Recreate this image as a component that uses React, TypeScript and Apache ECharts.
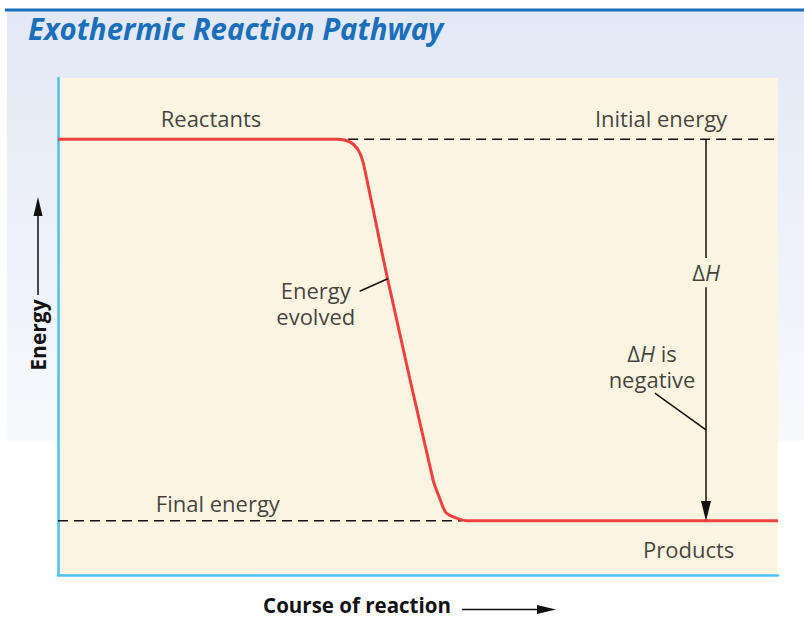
import React, { useEffect, useRef } from "react";
import * as echarts from "echarts";

// Course of reaction (0-100) and energy (0-100)
const reactionX = [0, 38.9, 40.6, 41.7, 42.4, 45.8, 52.1, 53.1, 53.8, 54.9, 56.9, 100];
const energyY = [87.7, 87.7, 87.1, 85.5, 82.9, 59.4, 19.1, 15.1, 12.7, 11.7, 10.9, 10.9];

const initialEnergy = 87.7;
const finalEnergy = 10.9;
const initialDashStart = 40.3;
const finalDashEnd = 56.1;
const deltaX = 90;
const deltaGapTop = 63.8;
const deltaGapBottom = 57.9;
const arrowHeadCenter = 12.9;

const labelNames = ["Reactants", "Initial energy", "Final energy", "Products", "Energy", "evolved", "ΔH", "ΔH is", "negative"];
const labelX = [21.25, 83.75, 22.2, 87.6, 35.8, 35.8, 90, 82.5, 82.5];
const labelY = [92.0, 92.0, 14.5, 5.2, 57.3, 52.1, 61.0, 44.7, 39.5];

const leaderLines = [
  [[41.9, 57.1], [45.8, 59.6]],
  [[82.9, 36.6], [90, 29.2]],
];

const FONT = "'Open Sans', 'Noto Sans', sans-serif";

export default function App() {
  const ref = useRef<HTMLDivElement>(null);
  useEffect(() => {
    if (!ref.current) return;
    const chart = echarts.init(ref.current, undefined, { renderer: "svg" });
    const richFmt = (name: string) => {
      if (name === "ΔH") return "{n|Δ}{i|H}";
      if (name === "ΔH is") return "{n|Δ}{i|H}{n| is}";
      return `{n|${name}}`;
    };
    const labelData = labelNames.map((n, i) => ({ name: n, value: [labelX[i], labelY[i]] }));
    chart.setOption({
      animation: false,
      backgroundColor: "#ffffff",
      graphic: [
        {
          type: "rect",
          z: -10,
          shape: { x: 7, y: 11, width: 797, height: 430 },
          style: {
            fill: new echarts.graphic.LinearGradient(0, 0, 0, 1, [
              { offset: 0, color: "#e2e8f5" },
              { offset: 1, color: "#f8f9fd" },
            ]),
          },
          silent: true,
        },
        {
          type: "rect",
          z: -9,
          shape: { x: 5, y: 8.5, width: 799, height: 3 },
          style: { fill: "#1a6fba" },
        },
        {
          type: "text",
          x: 28,
          y: 13,
          scaleX: 0.95,
          style: {
            text: "Exothermic Reaction Pathway",
            font: `italic bold 31px ${FONT}`,
            fill: "#1a6fba",
          },
        },
        {
          type: "text",
          x: 38,
          y: 335,
          rotation: Math.PI / 2,
          style: {
            text: "Energy",
            font: `bold 21px ${FONT}`,
            fill: "#111",
            align: "center",
            verticalAlign: "middle",
          },
        },
        {
          type: "line",
          shape: { x1: 38, y1: 295, x2: 38, y2: 212 },
          style: { stroke: "#111", lineWidth: 1.5 },
        },
        {
          type: "polygon",
          shape: { points: [[38, 197], [33.5, 216], [42.5, 216]] },
          style: { fill: "#111" },
        },
        {
          type: "text",
          x: 357,
          y: 605,
          style: {
            text: "Course of reaction",
            font: `bold 20.5px ${FONT}`,
            fill: "#111",
            align: "center",
            verticalAlign: "middle",
          },
        },
        {
          type: "line",
          shape: { x1: 462, y1: 609.5, x2: 540, y2: 609.5 },
          style: { stroke: "#111", lineWidth: 1.5 },
        },
        {
          type: "polygon",
          shape: { points: [[556, 609.5], [537, 605], [537, 614]] },
          style: { fill: "#111" },
        },
      ],
      grid: {
        left: 58,
        top: 78,
        width: 720,
        height: 497,
        show: true,
        backgroundColor: "#fdf4e1",
        borderWidth: 0,
      },
      xAxis: {
        type: "value",
        min: 0,
        max: 100,
        axisLine: { show: true, lineStyle: { color: "#4cc3ee", width: 2.5 } },
        axisTick: { show: false },
        axisLabel: { show: false },
        splitLine: { show: false },
      },
      yAxis: {
        type: "value",
        min: 0,
        max: 100,
        axisLine: { show: true, lineStyle: { color: "#4cc3ee", width: 2.5 } },
        axisTick: { show: false },
        axisLabel: { show: false },
        splitLine: { show: false },
      },
      series: [
        {
          type: "line",
          data: [[initialDashStart, initialEnergy], [100, initialEnergy]],
          symbol: "none",
          lineStyle: { color: "#111", width: 1.5, type: [10, 6] },
          z: 1,
        },
        {
          type: "line",
          data: [[0, finalEnergy], [finalDashEnd, finalEnergy]],
          symbol: "none",
          lineStyle: { color: "#111", width: 1.5, type: [10, 6] },
          z: 1,
        },
        {
          type: "line",
          data: reactionX.map((x, i) => [x, energyY[i]]),
          symbol: "none",
          smooth: 0.25,
          lineStyle: { color: "#f0413f", width: 3 },
          z: 3,
        },
        {
          type: "lines",
          coordinateSystem: "cartesian2d",
          symbol: ["none", "none"],
          lineStyle: { color: "#111", width: 1.5, opacity: 1 },
          data: [
            { coords: [[deltaX, initialEnergy], [deltaX, deltaGapTop]] },
            { coords: [[deltaX, deltaGapBottom], [deltaX, arrowHeadCenter]] },
            ...leaderLines.map((c) => ({ coords: c })),
          ],
          z: 4,
        },
        {
          type: "scatter",
          data: [[deltaX, arrowHeadCenter]],
          symbol: "triangle",
          symbolRotate: 180,
          symbolSize: [10, 20],
          itemStyle: { color: "#111", opacity: 1 },
          z: 5,
        },
        {
          type: "scatter",
          symbolSize: 0,
          data: labelData,
          z: 5,
          label: {
            show: true,
            position: "inside",
            formatter: (p: any) => richFmt(p.name),
            rich: {
              n: { fontFamily: FONT, fontSize: 22, color: "#111" },
              i: { fontFamily: FONT, fontSize: 22, color: "#111", fontStyle: "italic" },
            },
            align: "center",
            verticalAlign: "middle",
          },
        },
      ],
    });
    return () => chart.dispose();
  }, []);
  return (
    <div
      ref={ref}
      style={{ position: "fixed", left: 0, top: 0, width: 804, height: 619 }}
    />
  );
}
